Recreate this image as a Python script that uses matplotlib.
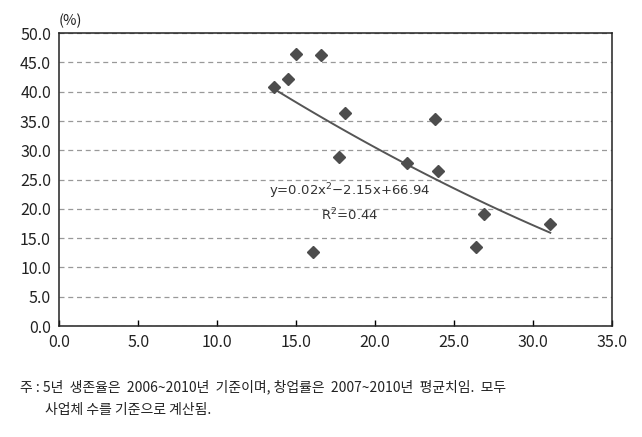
import numpy as np
import matplotlib
matplotlib.use("Agg")
import matplotlib.pyplot as plt

plt.rcParams['font.family'] = ['Noto Sans CJK KR', 'DejaVu Sans']

# start-up rate (x, %) vs 5-year survival rate (y, %)
startup_rate = [13.6, 14.5, 15.0, 16.6, 18.1, 17.7, 22.0, 23.8, 24.0, 16.1, 26.9, 26.4, 31.1]
survival_rate = [40.8, 42.1, 46.5, 46.3, 36.3, 28.9, 27.9, 35.3, 26.5, 12.6, 19.1, 13.5, 17.5]

xticks = [0, 5, 10, 15, 20, 25, 30, 35]
yticks = [0, 5, 10, 15, 20, 25, 30, 35, 40, 45, 50]

fig = plt.figure(figsize=(6.42, 4.37), dpi=100)
ax = fig.add_axes([0.0924, 0.254, 0.8606, 0.670])

x = np.array(startup_rate)
y = np.array(survival_rate)
coef = np.polyfit(x, y, 2)
xs = np.linspace(x.min(), x.max(), 100)
ax.plot(xs, np.polyval(coef, xs), color='#555555', lw=1.4, zorder=2)
ax.plot(x, y, 'D', color='#4d4d4d', ms=6.5, mec='#4d4d4d', zorder=3)

ax.set_xlim(0, 35)
ax.set_ylim(0, 50)
ax.set_xticks(xticks)
ax.set_yticks(yticks)
ax.set_xticklabels(['%.1f' % t for t in xticks], fontsize=11.5, color='#222222')
ax.set_yticklabels(['%.1f' % t for t in yticks], fontsize=11.5, color='#222222')
ax.tick_params(axis='x', direction='in', length=4, width=1, pad=6)
ax.tick_params(axis='y', length=0, pad=6)
ax.yaxis.grid(True, ls=(0, (4, 3)), color='#999999', lw=0.9)
for s in ax.spines.values():
    s.set_linewidth(1.1)
    s.set_color('#222222')

ax.text(18.4, 23.0, 'y=0.02x$^2$\u22122.15x+66.94', fontsize=9.5, color='#333333',
        ha='center', va='center', family='DejaVu Sans')
ax.text(18.4, 19.0, 'R$^2$=0.44', fontsize=9.5, color='#333333',
        ha='center', va='center', family='DejaVu Sans')

fig.text(0.092, 0.952, '(%)', fontsize=10.5, color='#222222', ha='left', va='center')

fig.text(0.031, 0.115, '주 : 5년  생존율은  2006~2010년  기준이며, 창업률은  2007~2010년  평균치임.  모두',
         fontsize=10, color='#222222', ha='left', va='center')
fig.text(0.070, 0.062, '사업체 수를 기준으로 계산됨.',
         fontsize=10, color='#222222', ha='left', va='center')

fig.savefig('out.png', dpi=100)
